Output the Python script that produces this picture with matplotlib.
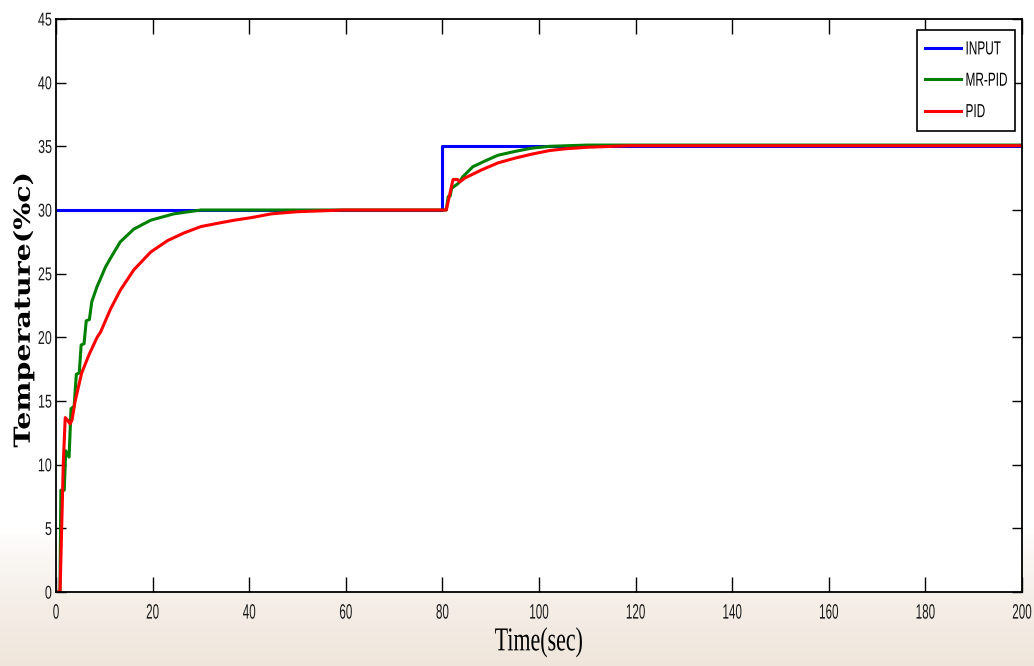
import matplotlib
matplotlib.use('Agg')
import matplotlib.pyplot as plt
import numpy as np
from matplotlib.patheffects import AbstractPathEffect
from matplotlib.transforms import Affine2D
from matplotlib.path import Path

# set point and input step
t_input = [0, 80, 80, 200]
v_input = [30, 30, 35, 35]

# MR-PID response
t_mrpid = [0, 0.8, 1.0, 1.7, 2.0, 2.7, 3.1, 3.75, 4.2, 4.8, 5.2, 5.8, 6.25, 6.9, 7.4,
           8.5, 9.2, 10.2, 11.25, 13.3, 16.1, 19.6, 24.4, 30, 80, 80.8, 81.2, 81.6,
           81.9, 83.3, 84.2, 86.3, 89.1, 91.5, 95, 98.4, 102.2, 110, 200]
v_mrpid = [0, 0, 8.0, 8.0, 11.1, 10.6, 14.4, 14.6, 17.1, 17.2, 19.4, 19.5, 21.3, 21.4, 22.8,
           24.0, 24.6, 25.5, 26.2, 27.5, 28.5, 29.2, 29.7, 30.0, 30.0, 30.0, 31.05, 31.1,
           31.7, 32.1, 32.6, 33.4, 33.9, 34.3, 34.6, 34.85, 35.0, 35.1, 35.1]

# PID response
t_pid = [0, 0.83, 1.5, 1.9, 2.4, 2.9, 3.3, 3.96, 5.3, 6.9, 8.5, 9.2, 11.25, 13.3, 16.1,
         19.6, 23.1, 26.5, 30, 33.5, 36.9, 40.4, 44.6, 50.1, 59.6, 80, 80.8, 81.5,
         82.2, 83.1, 83.6, 84.6, 88.1, 91.5, 95, 98.4, 102.2, 105.3, 110, 118.8, 200]
v_pid = [0, 0, 10.1, 13.7, 13.5, 13.2, 13.5, 15.0, 17.2, 18.7, 20.0, 20.4, 22.2, 23.7, 25.3,
         26.7, 27.6, 28.2, 28.7, 28.96, 29.2, 29.4, 29.7, 29.87, 30.0, 30.0, 30.0, 31.2,
         32.4, 32.4, 32.2, 32.5, 33.15, 33.7, 34.07, 34.38, 34.67, 34.8, 34.93, 35.05, 35.05]

x_ticks = [0, 20, 40, 60, 80, 100, 120, 140, 160, 180, 200]
y_ticks = [0, 5, 10, 15, 20, 25, 30, 35, 40, 45]


class Stretch(AbstractPathEffect):
    """squeeze/stretch a text path about an anchor (MATLAB-ish condensed fonts)"""
    def __init__(self, sx=1.0, sy=1.0, ha='center', va='center'):
        super().__init__()
        self.sx, self.sy, self.ha, self.va = sx, sy, ha, va

    def draw_path(self, renderer, gc, tpath, affine, rgbFace=None):
        v = tpath.vertices
        if tpath.codes is not None:
            v = v[tpath.codes != Path.CLOSEPOLY]
        if len(v):
            x0, x1 = v[:, 0].min(), v[:, 0].max()
            y0, y1 = v[:, 1].min(), v[:, 1].max()
            cx = {'left': x0, 'center': (x0 + x1) / 2, 'right': x1}[self.ha]
            cy = {'bottom': y0, 'center': (y0 + y1) / 2, 'top': y1}[self.va]
            affine = (Affine2D().translate(-cx, -cy).scale(self.sx, self.sy)
                      .translate(cx, cy) + affine)
        renderer.draw_path(gc, tpath, affine, rgbFace)


sans = ['Liberation Sans', 'DejaVu Sans']
serif = ['Liberation Serif', 'DejaVu Serif']

fig = plt.figure(figsize=(10.34, 6.66), dpi=100)

# faint beige wash at the bottom (watermark area)
bg = fig.add_axes([0, 0, 1, 1], zorder=-10)
grad = np.linspace(0, 1, 200)
grad = np.clip((grad - 0.8) / 0.2, 0, 1) ** 0.7
top = np.array([1.0, 1.0, 1.0])
bot = np.array([0.94, 0.90, 0.86])
img = top[None, None, :] * (1 - grad[:, None, None]) + bot[None, None, :] * grad[:, None, None]
bg.imshow(img, aspect='auto', extent=[0, 1, 0, 1], origin='upper')
bg.axis('off')

ax = fig.add_axes([0.0542, 0.111, 0.9342, 0.8605])
ax.set_facecolor('white')

ax.plot(t_input, v_input, color='#0000ff', lw=2.2, label='INPUT')
ax.plot(t_mrpid, v_mrpid, color='#008000', lw=2.2, label='MR-PID')
ax.plot(t_pid, v_pid, color='#ff0000', lw=2.2, label='PID')

ax.set_xlim(0, 200)
ax.set_ylim(0, 45)
ax.set_xticks(x_ticks)
ax.set_yticks(y_ticks)
ax.tick_params(axis='x', direction='in', length=11, width=1, top=True, pad=8)
ax.tick_params(axis='y', direction='in', length=7, width=1, right=True, pad=3)
# condensed look: small font, stretched tall
for lab in ax.get_xticklabels():
    lab.set_family(sans)
    lab.set_fontsize(8.4)
    lab.set_color('#1a1a1a')
    lab.set_path_effects([Stretch(sy=1.79, va='top')])
for lab in ax.get_yticklabels():
    lab.set_family(sans)
    lab.set_fontsize(9.0)
    lab.set_color('#1a1a1a')
    lab.set_path_effects([Stretch(sy=1.49, va='center')])
for s in ax.spines.values():
    s.set_linewidth(1.3)

xl = ax.set_xlabel('Time(sec)', family=serif, fontsize=15.8)
xl.set_path_effects([Stretch(sy=1.52, va='center')])
ax.xaxis.set_label_coords(0.5, -0.072)

yl = ax.set_ylabel('Temperature(%c)', family=['DejaVu Serif'], fontsize=16,
                   fontweight='bold')
yl.set_path_effects([Stretch(sx=1.28, ha='center')])
ax.yaxis.set_label_coords(-0.022, 0.492)

leg = ax.legend(loc='upper right', bbox_to_anchor=(0.9855, 0.9592), borderaxespad=0,
                prop={'family': sans, 'size': 8.5},
                fancybox=False, framealpha=1, edgecolor='black', handlelength=3.1,
                handletextpad=0.35, borderpad=0.05, labelspacing=1.64)
frame = leg.get_frame()
frame.set_linewidth(1.2)
frame.set_boxstyle('square', pad=0.62)
frame.set_mutation_aspect(1.7)
for txt in leg.get_texts():
    txt.set_path_effects([Stretch(sy=1.6, va='center')])

fig.savefig('out.png', dpi=100)
